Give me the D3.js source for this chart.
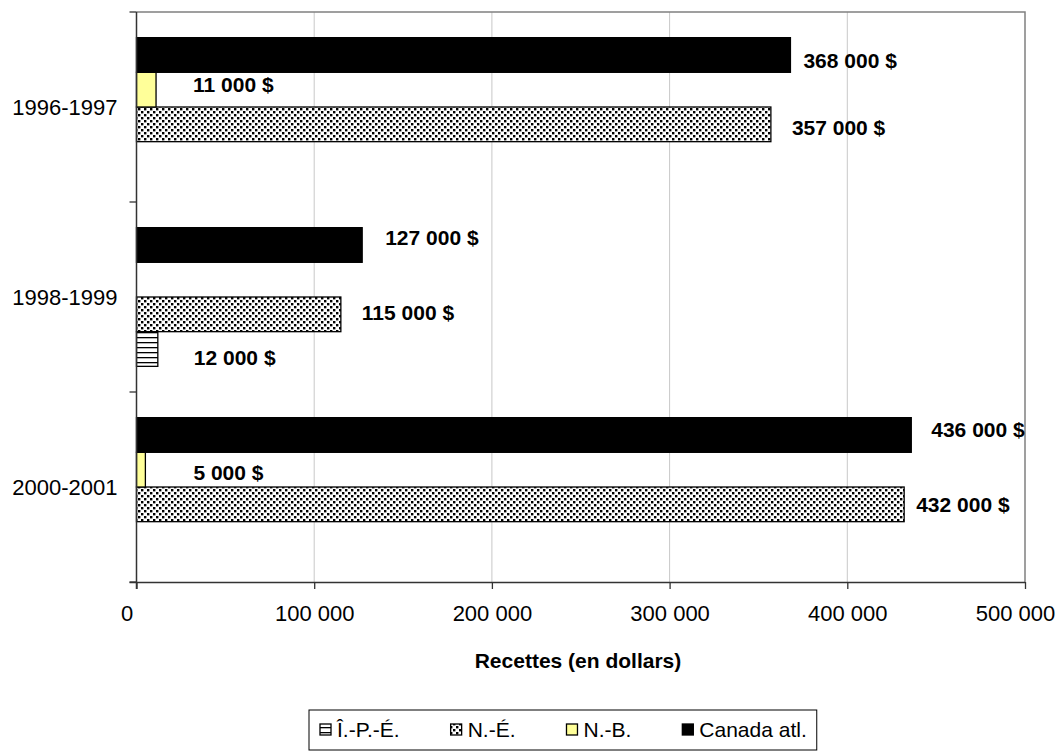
<!DOCTYPE html>
<html>
<head>
<meta charset="utf-8">
<script src="https://cdn.jsdelivr.net/npm/d3@7"></script>
<style>
  html, body { margin: 0; padding: 0; background: #fff; }
  svg { display: block; font-family: "Liberation Sans", Arial, sans-serif; }
</style>
</head>
<body>
<svg id="chart" width="1060" height="751"></svg>
<script>
// Revenue by season and province
const categories = ["1996-1997", "1998-1999", "2000-2001"];
const seriesNames = ["Î.-P.-É.", "N.-É.", "N.-B.", "Canada atl."];
const ipeValues    = [null, 12000, null];
const neValues     = [357000, 115000, 432000];
const nbValues     = [11000, null, 5000];
const canadaValues = [368000, 127000, 436000];
const xTicks = [0, 100000, 200000, 300000, 400000, 500000];
const xTitle = "Recettes (en dollars)";

const valuesBySeries = {
  "Î.-P.-É.": ipeValues,
  "N.-É.": neValues,
  "N.-B.": nbValues,
  "Canada atl.": canadaValues
};

// Hand-placed value labels: [dx from bar end, dy baseline from bar centre]
const labelNudge = {
  "Canada atl.|1996-1997": [13, 13],
  "N.-B.|1996-1997": [37, 2],
  "N.-É.|1996-1997": [21, 11],
  "Canada atl.|1998-1999": [23, 0],
  "N.-É.|1998-1999": [21, 6],
  "Î.-P.-É.|1998-1999": [36, 16],
  "Canada atl.|2000-2001": [20, 2],
  "N.-B.|2000-2001": [48, 10],
  "N.-É.|2000-2001": [12, 8]
};

const loc = d3.formatLocale({ decimal: ",", thousands: "\u00a0", grouping: [3], currency: ["", "\u00a0$"] });
const fmtTick = loc.format(",d");
const fmtLabel = v => fmtTick(v) + "\u00a0$";

const svg = d3.select("#chart");
const plot = { left: 136.5, right: 1025, top: 12, bottom: 582 };

const x = d3.scaleLinear().domain([0, 500000]).range([plot.left, plot.right]);
const y = d3.scaleBand().domain(categories).range([plot.top, plot.bottom])
  .paddingInner(0.27).paddingOuter(0.135);
// Top-to-bottom order inside each group
const barOrder = ["Canada atl.", "N.-B.", "N.-É.", "Î.-P.-É."];
const yInner = d3.scaleBand().domain(barOrder).range([0, y.bandwidth()]);

// Fill patterns
const defs = svg.append("defs");
const stripes = defs.append("pattern").attr("id", "pat-stripes")
  .attr("patternUnits", "userSpaceOnUse").attr("width", 6).attr("height", 5);
stripes.append("rect").attr("width", 6).attr("height", 5).attr("fill", "#fff");
stripes.append("rect").attr("y", 2).attr("width", 6).attr("height", 1.3).attr("fill", "#000");

const dots = defs.append("pattern").attr("id", "pat-dots")
  .attr("patternUnits", "userSpaceOnUse").attr("width", 6).attr("height", 6);
dots.append("rect").attr("width", 6).attr("height", 6).attr("fill", "#fff");
dots.append("rect").attr("x", 0).attr("y", 0).attr("width", 2.4).attr("height", 2.4).attr("fill", "#000");
dots.append("rect").attr("x", 3).attr("y", 3).attr("width", 2.4).attr("height", 2.4).attr("fill", "#000");

const fills = {
  "Î.-P.-É.": "url(#pat-stripes)",
  "N.-É.": "url(#pat-dots)",
  "N.-B.": "#ffff99",
  "Canada atl.": "#000"
};

// Gridlines
svg.append("g").selectAll("line").data(xTicks.slice(1, -1)).join("line")
  .attr("x1", d => x(d)).attr("x2", d => x(d))
  .attr("y1", plot.top).attr("y2", plot.bottom)
  .attr("stroke", "#c8c8c8").attr("stroke-width", 1);

// Plot frame (top and right)
svg.append("path")
  .attr("d", `M${plot.left},${plot.top}H${plot.right}V${plot.bottom}`)
  .attr("fill", "none").attr("stroke", "#808080").attr("stroke-width", 1.5);

// Bars
const barData = [];
categories.forEach((c, i) => {
  seriesNames.forEach(s => {
    const v = valuesBySeries[s][i];
    if (v != null) barData.push({ cat: c, series: s, value: v });
  });
});

svg.append("g").selectAll("rect").data(barData).join("rect")
  .attr("x", x(0))
  .attr("y", d => y(d.cat) + yInner(d.series))
  .attr("width", d => x(d.value) - x(0))
  .attr("height", yInner.bandwidth())
  .attr("fill", d => fills[d.series])
  .attr("stroke", "#000").attr("stroke-width", 1.3);

// Value labels
svg.append("g").selectAll("text").data(barData).join("text")
  .attr("x", d => x(d.value) + labelNudge[d.series + "|" + d.cat][0])
  .attr("y", d => y(d.cat) + yInner(d.series) + yInner.bandwidth() / 2 + labelNudge[d.series + "|" + d.cat][1])
  .attr("font-size", 21).attr("font-weight", "bold").attr("fill", "#000")
  .text(d => fmtLabel(d.value));

// X axis
const xAxis = svg.append("g").attr("transform", `translate(0,${plot.bottom})`)
  .call(d3.axisBottom(x).tickValues(xTicks).tickFormat(fmtTick).tickSize(7).tickPadding(16));
xAxis.select(".domain").attr("stroke", "#333").attr("stroke-width", 1.5)
  .attr("d", `M${plot.left - 7},0.5H${plot.right}`);
xAxis.selectAll(".tick line").attr("stroke", "#333").attr("stroke-width", 1.3);
xAxis.selectAll(".tick text").attr("font-size", 22).attr("fill", "#000")
  .attr("font-family", "Liberation Sans, Arial, sans-serif")
  .attr("dx", (d, i) => (i === 0 || i === xTicks.length - 1) ? -10 : 0);

// Y axis: ticks on category boundaries, labels centred in bands
const boundaries = [plot.top].concat(categories.map(c => y(c) + y.bandwidth() + y.step() * y.paddingInner() / 2));
boundaries[boundaries.length - 1] = plot.bottom;
const yAxis = svg.append("g");
yAxis.append("line")
  .attr("x1", plot.left).attr("x2", plot.left)
  .attr("y1", plot.top).attr("y2", plot.bottom + 7)
  .attr("stroke", "#333").attr("stroke-width", 1.5);
yAxis.selectAll("line.tick").data(boundaries).join("line").attr("class", "tick")
  .attr("x1", plot.left - 7).attr("x2", plot.left)
  .attr("y1", d => d).attr("y2", d => d)
  .attr("stroke", "#333").attr("stroke-width", 1.3);
yAxis.selectAll("text").data(categories).join("text")
  .attr("x", plot.left - 19)
  .attr("y", d => y(d) + y.bandwidth() / 2)
  .attr("dy", "0.35em")
  .attr("text-anchor", "end")
  .attr("font-size", 22).attr("fill", "#000")
  .text(d => d);

// Axis title
svg.append("text")
  .attr("x", 578).attr("y", 668)
  .attr("text-anchor", "middle")
  .attr("font-size", 21).attr("font-weight", "bold")
  .text(xTitle);

// Legend
const legend = svg.append("g");
const legendBox = legend.append("rect")
  .attr("fill", "#fff").attr("stroke", "#000").attr("stroke-width", 1);
let lx = 320;
const ly = 730;
const legendGap = 51;
seriesNames.forEach(s => {
  legend.append("rect")
    .attr("x", lx).attr("y", ly - 6).attr("width", 11).attr("height", 11)
    .attr("fill", fills[s]).attr("stroke", "#000").attr("stroke-width", 1.3);
  const t = legend.append("text")
    .attr("x", lx + 17).attr("y", ly).attr("dy", "0.35em")
    .attr("font-size", 21).text(s);
  lx += 17 + t.node().getComputedTextLength() + legendGap;
});
legendBox.attr("x", 309).attr("y", 710).attr("width", lx - legendGap + 10 - 309).attr("height", 40);
</script>
</body>
</html>
